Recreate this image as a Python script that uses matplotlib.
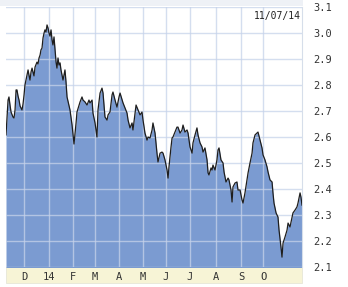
import matplotlib
matplotlib.use("Agg")
import matplotlib.pyplot as plt
from matplotlib.patches import Rectangle

# trading-day position and yield (%)
days = [0.0, 1.8, 2.6, 3.5, 4.4, 6.1, 7.0, 7.9, 8.8, 9.6, 10.5, 11.4, 12.3, 14.0, 14.9,
        15.8, 16.6, 18.4, 19.3, 20.1, 21.0, 21.9, 22.8, 23.6, 24.5, 25.4, 27.1, 28.0,
        28.9, 29.8, 30.6, 31.5, 32.4, 33.3, 34.1, 35.0, 35.9, 36.8, 37.6, 38.5, 39.4,
        40.3, 41.1, 42.0, 42.9, 43.8, 44.6, 45.5, 46.4, 47.3, 48.1, 49.9, 51.6, 52.5,
        53.4, 56.0, 57.8, 59.5, 61.3, 62.1, 64.8, 66.5, 67.4, 69.1, 70.9, 72.6, 73.5,
        75.3, 76.1, 77.9, 79.6, 80.5, 82.3, 84.0, 84.9, 86.6, 88.4, 89.3, 91.0, 92.8,
        93.6, 95.4, 97.1, 98.9, 99.8, 102.4, 105.9, 106.8, 108.5, 110.3, 111.1, 112.9,
        113.8, 115.5, 117.3, 119.0, 119.9, 121.6, 123.4, 124.3, 126.0, 127.8, 128.6,
        130.4, 132.1, 133.0, 134.8, 136.5, 137.4, 139.1, 140.9, 141.8, 142.6, 144.4,
        145.3, 146.1, 147.9, 149.6, 150.5, 152.3, 154.0, 154.9, 156.6, 158.4, 159.3,
        161.0, 162.8, 163.6, 165.4, 167.1, 168.0, 169.8, 171.5, 172.4, 174.1, 175.9,
        176.8, 177.6, 179.4, 180.3, 181.1, 182.9, 184.6, 185.5, 186.4, 188.1, 189.9,
        190.8, 192.5, 194.3, 195.1, 196.9, 197.8, 198.6, 200.4, 202.1, 203.0, 204.8,
        206.5, 207.4, 209.1, 210.9, 211.8, 213.5, 215.3, 216.1, 217.9, 219.6, 220.5,
        222.3, 224.0, 224.9, 226.6, 228.4, 229.3, 231.0, 232.8, 233.6, 234.5, 236.3,
        238.0, 238.9, 240.6, 241.5, 242.4, 244.1, 245.9, 246.8, 248.5, 250.3, 251.1,
        252.9, 254.6, 255.5, 257.3, 258.1, 259.0]
yields = [2.608, 2.742, 2.754, 2.723, 2.696, 2.677, 2.673, 2.704, 2.781, 2.781, 2.758,
          2.742, 2.719, 2.704, 2.727, 2.762, 2.800, 2.838, 2.858, 2.838, 2.819, 2.850,
          2.865, 2.850, 2.835, 2.869, 2.888, 2.881, 2.904, 2.915, 2.935, 2.942, 2.981,
          3.000, 3.012, 3.004, 3.031, 3.019, 3.000, 2.988, 3.012, 2.973, 2.954, 2.985,
          2.935, 2.888, 2.865, 2.904, 2.877, 2.885, 2.858, 2.819, 2.858, 2.812, 2.754,
          2.704, 2.646, 2.573, 2.654, 2.696, 2.735, 2.754, 2.742, 2.735, 2.723, 2.742,
          2.731, 2.742, 2.692, 2.654, 2.600, 2.704, 2.769, 2.788, 2.769, 2.677, 2.665,
          2.685, 2.696, 2.762, 2.773, 2.742, 2.715, 2.754, 2.769, 2.731, 2.692, 2.665,
          2.635, 2.654, 2.627, 2.692, 2.723, 2.704, 2.685, 2.696, 2.665, 2.615, 2.588,
          2.600, 2.596, 2.627, 2.654, 2.615, 2.538, 2.504, 2.538, 2.542, 2.538, 2.512,
          2.473, 2.442, 2.485, 2.562, 2.596, 2.600, 2.619, 2.638, 2.638, 2.615, 2.627,
          2.646, 2.619, 2.627, 2.615, 2.562, 2.538, 2.577, 2.608, 2.635, 2.608, 2.577,
          2.562, 2.542, 2.558, 2.512, 2.462, 2.454, 2.481, 2.473, 2.492, 2.473, 2.512,
          2.550, 2.558, 2.512, 2.500, 2.465, 2.427, 2.442, 2.435, 2.396, 2.350, 2.408,
          2.423, 2.427, 2.396, 2.396, 2.358, 2.346, 2.385, 2.435, 2.462, 2.500, 2.538,
          2.577, 2.608, 2.615, 2.619, 2.588, 2.558, 2.531, 2.512, 2.485, 2.465, 2.435,
          2.427, 2.385, 2.346, 2.308, 2.292, 2.242, 2.177, 2.138, 2.192, 2.215, 2.242,
          2.269, 2.254, 2.292, 2.308, 2.319, 2.331, 2.346, 2.385, 2.369, 2.338]

month_pos = [15.8, 37.6, 58.6, 77.9, 98.9, 119.9, 140.0, 161.0, 183.8, 205.6, 224.9]
month_labels = ["D", "14", "F", "M", "A", "M", "J", "J", "A", "S", "O"]
y_ticks = [2.1, 2.2, 2.3, 2.4, 2.5, 2.6, 2.7, 2.8, 2.9, 3.0, 3.1]
date_label = "11/07/14"

W, H = 348, 287
fig = plt.figure(figsize=(W / 100, H / 100), dpi=100)
fig.patch.set_facecolor("white")

# light strip along the top and beige month band below the plot
fig.add_artist(Rectangle((0, 1 - 6 / H), 303 / W, 6 / H, transform=fig.transFigure,
                         facecolor="#eef1f6", edgecolor="none", zorder=-5))
fig.add_artist(Rectangle((6 / W, 4 / H), 296 / W, 16 / H, transform=fig.transFigure,
                         facecolor="#f7f4d6", edgecolor="#e6e6d8", lw=0.6, zorder=-5))

ax = fig.add_axes([6 / W, 20 / H, 296 / W, 260 / H])
ax.set_xlim(0, 259)
ax.set_ylim(2.1, 3.1)

ax.fill_between(days, yields, 2.0, color="#7b9bd1", lw=0, zorder=1)
ax.plot(days, yields, color="#1e1e1e", lw=0.9, zorder=3)

for m in month_pos:
    ax.axvline(m, color="#c6d3ea", lw=1.0, alpha=0.75, zorder=2)
for t in y_ticks:
    ax.axhline(t, color="#c6d3ea", lw=1.0, alpha=0.75, zorder=2)

for s in ["left", "top", "bottom"]:
    ax.spines[s].set_visible(False)
ax.spines["right"].set_color("#d6deea")
ax.spines["right"].set_linewidth(0.8)

mono = "DejaVu Sans Mono"
ax.yaxis.tick_right()
ax.set_yticks(y_ticks)
ax.set_yticklabels([f"{t:.1f}" for t in y_ticks], fontsize=7.5, family=mono, color="#333333")
ax.tick_params(axis="y", length=0, pad=8)

ax.set_xticks(month_pos)
ax.set_xticklabels(month_labels, fontsize=7.5, family=mono, color="#333333")
ax.tick_params(axis="x", length=0, pad=3.5)

ax.text(0.995, 0.985, date_label, transform=ax.transAxes, ha="right", va="top",
        fontsize=7, family=mono, color="#222222", zorder=4)

fig.savefig("out.png", dpi=100, facecolor=fig.get_facecolor())
